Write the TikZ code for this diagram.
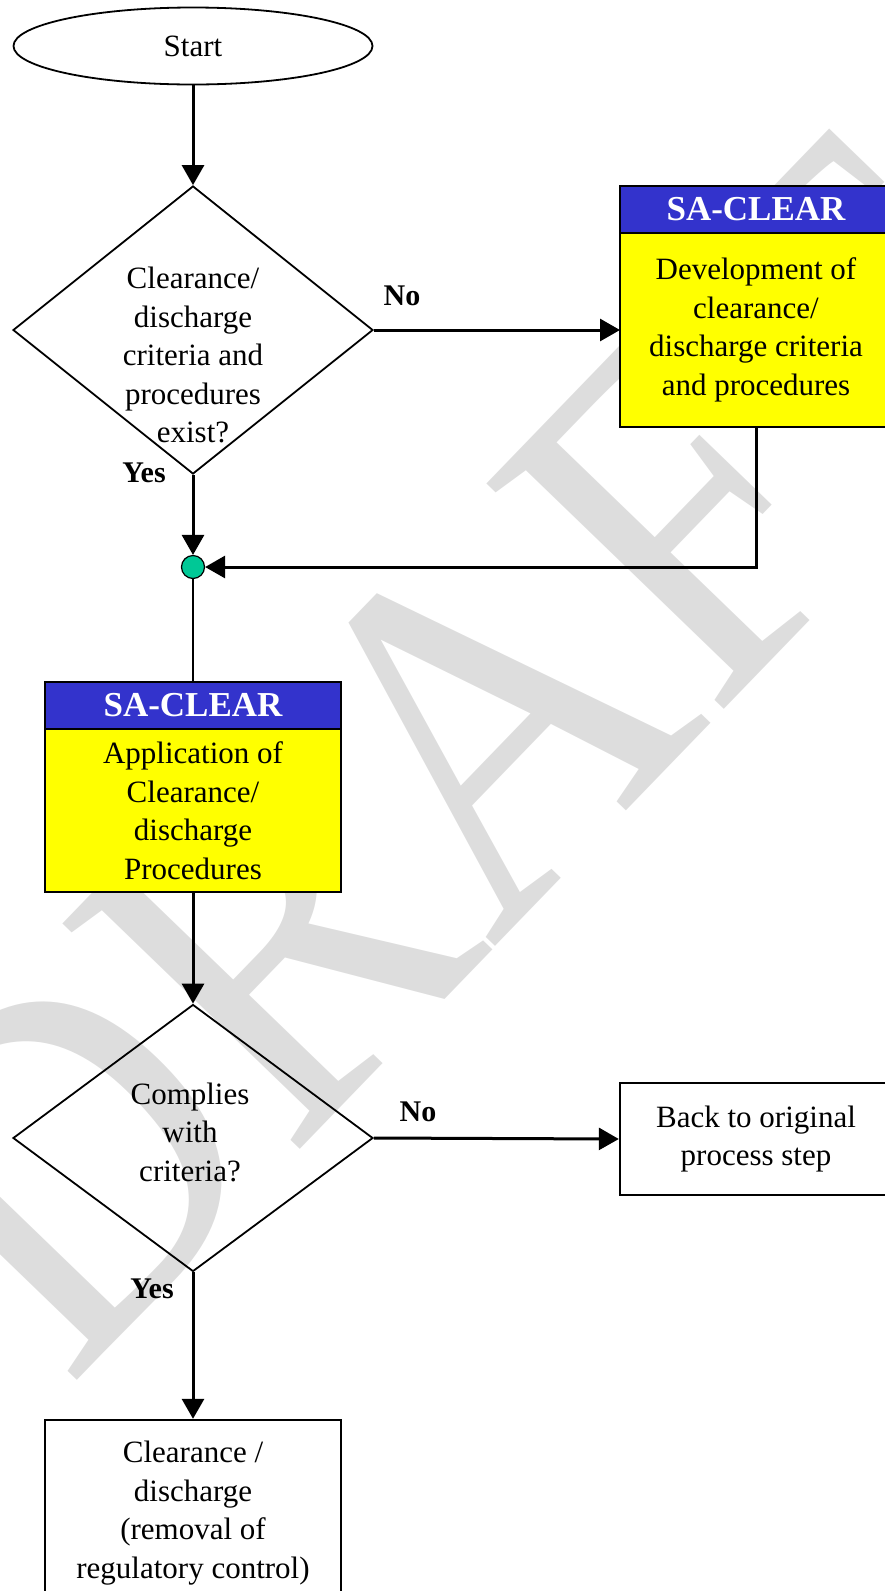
\documentclass[tikz,border=0pt]{standalone}
\usepackage{fontspec}
\setmainfont{Liberation Serif}
\usepackage{tikz}
\usetikzlibrary{positioning,arrows.meta,shapes.geometric}
\definecolor{hdrblue}{RGB}{51,51,204}
\definecolor{boxyellow}{RGB}{255,255,0}
\definecolor{jngreen}{RGB}{0,200,150}
\definecolor{wmgray}{RGB}{221,221,221}

\begin{document}
\begin{tikzpicture}[x=1pt,y=-1pt,
  every node/.style={font=\fontsize{31}{38.5}\selectfont},
  term/.style={draw,ellipse,line width=1.8pt,minimum width=359pt,minimum height=77pt},
  decision/.style={draw,diamond,line width=1.8pt,inner sep=0pt,minimum width=360pt},
  dtext/.style={align=center},
  hdr/.style={draw,line width=2.4pt,outer sep=0pt,fill=hdrblue,text=white,inner sep=0pt,
    font=\fontsize{35}{38}\selectfont\bfseries,minimum height=47pt},
  body/.style={draw,line width=2.4pt,outer sep=0pt,fill=boxyellow,align=center,inner sep=0pt},
  plain/.style={draw,line width=2.4pt,fill=white,align=center,inner sep=0pt},
  lbl/.style={font=\fontsize{30}{34}\selectfont\bfseries,inner sep=0pt},
  arr/.style={-{Triangle[length=20pt,width=22pt]},line width=3pt},
  wmark/.style={text=wmgray,inner sep=0pt,font=\fontsize{500}{500}\selectfont}]
\useasboundingbox (0,0) rectangle (885,1591);
% watermark behind everything
\node[wmark,rotate=46,xscale=0.88] (draft) at (451,756) {DRAFT};

\node[term] (start) at (193,46) {Start};
\node[decision,minimum height=288pt] (q1) at (193,330) {};
\node[dtext] (q1txt) at (193,355) {Clearance/\\discharge\\criteria and\\procedures\\exist?};
\node[lbl] (q1no)  at (402,296) {No};
\node[lbl] (q1yes) at (144,473) {Yes};
\node[hdr,minimum width=272pt] (devhdr) at (756,209.5) {SA-CLEAR};
\node[body,minimum width=272pt,minimum height=194pt,below=0pt of devhdr] (dev) {Development of\\clearance/\\discharge criteria\\and procedures};
\node[circle,draw,fill=jngreen,line width=1.2pt,minimum size=23pt,inner sep=0pt] (jn) at (193,567) {};
\node[hdr,minimum width=296pt] (apphdr) at (193,705.5) {SA-CLEAR};
\node[body,minimum width=296pt,minimum height=163pt,below=0pt of apphdr] (app) {Application of\\Clearance/\\discharge\\Procedures};
\node[decision,minimum height=267pt] (q2) at (193,1138) {};
\node[dtext] (q2txt) at (190,1132) {Complies\\with\\criteria?};
\node[lbl] (q2no)  at (418,1112) {No};
\node[lbl] (q2yes) at (152,1289) {Yes};
\node[plain,minimum width=272pt,minimum height=112pt] (back) at (756,1139) {Back to original\\process step};
\node[plain,minimum width=296pt,minimum height=186pt] (done) at (193,1513) {Clearance /\\discharge\\(removal of\\regulatory control)};

\draw[arr] (start.south) -- (q1.north);
\draw[arr] (q1.east) -- (dev.west);
\draw[arr] (q1.south) -- (jn.north);
\draw[arr] (dev.south) |- (jn.east);
\draw[line width=1.5pt] (jn.south) -- (apphdr.north);
\draw[arr] (app.south) -- (q2.north);
\draw[arr] (q2.east) -- (back.west);
\draw[arr] (q2.south) -- (done.north);
\end{tikzpicture}
\end{document}
